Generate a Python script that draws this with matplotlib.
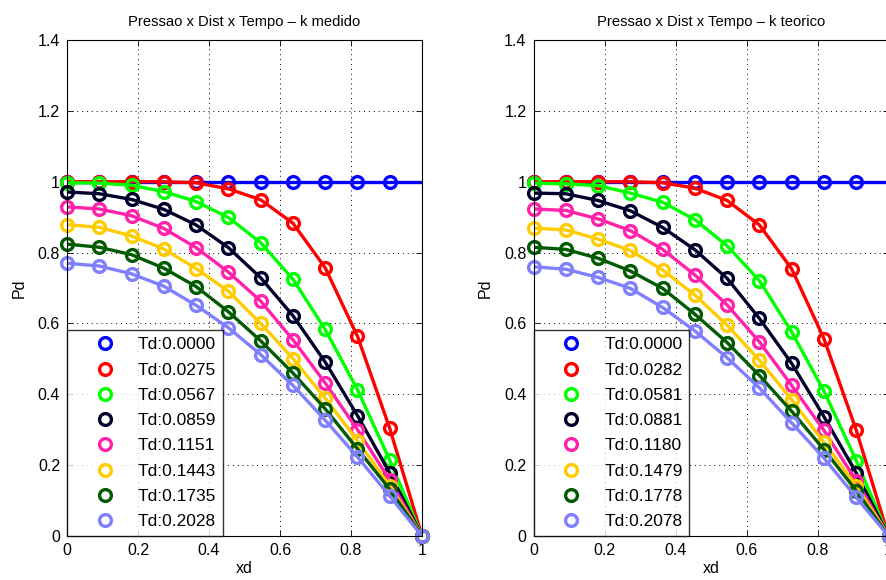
import matplotlib
matplotlib.use("Agg")
import matplotlib.pyplot as plt
from matplotlib.lines import Line2D

plt.rcParams['font.family'] = ['Liberation Sans', 'DejaVu Sans']

xd = [0, 1/11, 2/11, 3/11, 4/11, 5/11, 6/11, 7/11, 8/11, 9/11, 10/11, 1.0]

colors = ['#0000ff', '#ff0000', '#00ff00', '#00002a', '#ff22aa', '#ffcc00', '#005a00', '#8080ff']

# k medido
td_medido = ['0.0000', '0.0275', '0.0567', '0.0859', '0.1151', '0.1443', '0.1735', '0.2028']
pd_medido = [
    [1.0, 1.0, 1.0, 1.0, 1.0, 1.0, 1.0, 1.0, 1.0, 1.0, 1.0, 1.0],
    [1.0, 1.0, 1.0, 1.0, 0.997, 0.980, 0.949, 0.883, 0.757, 0.564, 0.304, 0.0],
    [0.997, 0.996, 0.990, 0.972, 0.944, 0.899, 0.828, 0.725, 0.583, 0.413, 0.214, 0.0],
    [0.971, 0.966, 0.950, 0.922, 0.878, 0.814, 0.729, 0.622, 0.491, 0.340, 0.178, 0.0],
    [0.929, 0.923, 0.904, 0.868, 0.814, 0.745, 0.663, 0.554, 0.432, 0.300, 0.158, 0.0],
    [0.879, 0.871, 0.847, 0.810, 0.755, 0.691, 0.600, 0.501, 0.389, 0.269, 0.142, 0.0],
    [0.824, 0.815, 0.794, 0.756, 0.704, 0.633, 0.551, 0.460, 0.359, 0.246, 0.132, 0.0],
    [0.770, 0.762, 0.740, 0.705, 0.651, 0.588, 0.512, 0.425, 0.327, 0.223, 0.113, 0.0],
]

# k teorico
td_teorico = ['0.0000', '0.0282', '0.0581', '0.0881', '0.1180', '0.1479', '0.1778', '0.2078']
pd_teorico = [
    [1.0, 1.0, 1.0, 1.0, 1.0, 1.0, 1.0, 1.0, 1.0, 1.0, 1.0, 1.0],
    [1.0, 1.0, 1.0, 1.0, 0.997, 0.982, 0.947, 0.878, 0.754, 0.557, 0.299, 0.0],
    [0.996, 0.994, 0.989, 0.968, 0.942, 0.893, 0.819, 0.721, 0.576, 0.409, 0.213, 0.0],
    [0.968, 0.966, 0.947, 0.918, 0.871, 0.808, 0.727, 0.614, 0.487, 0.337, 0.178, 0.0],
    [0.923, 0.919, 0.895, 0.862, 0.809, 0.737, 0.652, 0.548, 0.425, 0.298, 0.156, 0.0],
    [0.869, 0.864, 0.838, 0.806, 0.751, 0.680, 0.595, 0.496, 0.385, 0.264, 0.142, 0.0],
    [0.815, 0.809, 0.784, 0.748, 0.699, 0.626, 0.546, 0.453, 0.352, 0.244, 0.128, 0.0],
    [0.760, 0.753, 0.730, 0.699, 0.645, 0.579, 0.503, 0.418, 0.319, 0.220, 0.109, 0.0],
]

titles = ['Pressao x Dist x Tempo \u2013 k medido', 'Pressao x Dist x Tempo \u2013 k teorico']
xticks = [0, 0.2, 0.4, 0.6, 0.8, 1]
xticklabels = ['0', '0.2', '0.4', '0.6', '0.8', '1']
yticks = [0, 0.2, 0.4, 0.6, 0.8, 1.0, 1.2, 1.4]
yticklabels = ['0', '0.2', '0.4', '0.6', '0.8', '1', '1.2', '1.4']

fig = plt.figure(figsize=(8.86, 5.80), dpi=100)
W, H = 886, 580
positions = [
    [67 / W, (580 - 536) / H, 355 / W, 496 / H],
    [533.5 / W, (580 - 536) / H, 355 / W, 496 / H],
]

FS = 11.5
TFS = 10.6
LFS = 12.5

for pos, title, tds, pds in zip(positions, titles, [td_medido, td_teorico], [pd_medido, pd_teorico]):
    ax = fig.add_axes(pos)
    handles = []
    for i, (c, td, p) in enumerate(zip(colors, tds, pds)):
        ax.plot(xd, p, '-', color=c, lw=2.4, zorder=3 + i)
        if i == 0:
            mx, my = xd[:-1], p[:-1]
        else:
            mx, my = xd, p
        ax.plot(mx, my, 'o', color=c, mfc='none', mec=c, ms=8.5, mew=2.4,
                clip_on=False, zorder=3 + i)
        handles.append(Line2D([], [], ls='none', marker='o', mfc='none', mec=c,
                              ms=8.5, mew=2.4, label='Td:' + td))
    ax.set_xlim(0, 1)
    ax.set_ylim(0, 1.4)
    ax.set_xticks(xticks)
    ax.set_xticklabels(xticklabels)
    ax.set_yticks(yticks)
    ax.set_yticklabels(yticklabels)
    ax.tick_params(direction='in', top=True, right=True, length=4, width=0.6,
                   labelsize=FS, pad=5)
    ax.grid(True, ls=(0, (1, 4)), color='black', lw=0.7)
    for s in ax.spines.values():
        s.set_linewidth(0.8)
        s.set_zorder(20)
    ax.set_title(title, fontsize=TFS, pad=10)
    ax.set_xlabel('xd', fontsize=FS, labelpad=2)
    ax.set_ylabel('Pd', fontsize=FS, labelpad=8)
    leg = ax.legend(handles=handles, loc='lower left', fontsize=LFS,
                    frameon=True, fancybox=False, edgecolor='black',
                    borderaxespad=0.0, handlelength=3.55, handletextpad=0.12,
                    labelspacing=0.58, borderpad=0.4, markerfirst=True)
    leg.get_frame().set_linewidth(1.0)
    leg.set_zorder(30)

fig.savefig('out.png', dpi=100)
